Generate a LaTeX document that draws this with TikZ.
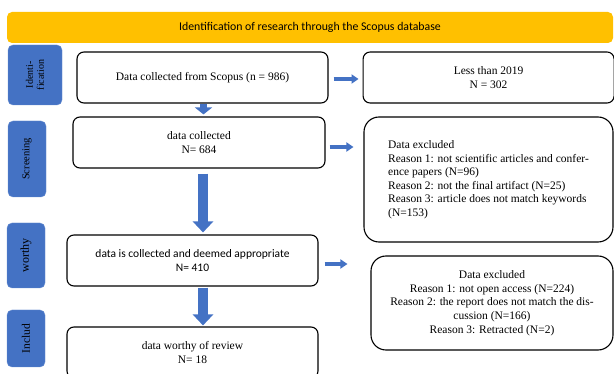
\documentclass[tikz,border=0pt]{standalone}
\usepackage{fontspec}
\setmainfont{Liberation Serif}[Ligatures=NoCommon]
\newfontfamily\calib{Carlito}
\usetikzlibrary{positioning,arrows.meta}
\definecolor{phaseblue}{HTML}{4472C4}
\definecolor{bannergold}{HTML}{FFC000}

\begin{document}
\begin{tikzpicture}[x=1pt,y=-1pt,
        flowbox/.style={rectangle, rounded corners=7pt, draw=black, line width=1.1pt, minimum width=251pt, minimum height=51pt, align=center, inner sep=2pt, font=\fontsize{11.5}{13.7}\selectfont},
        exclbox/.style={flowbox, rounded corners=15pt},
        phasenode/.style={rectangle, rounded corners=5pt, fill=phaseblue, draw=phaseblue!80!white, rotate=90, align=center, inner sep=1pt},
        downarrow/.style={draw=phaseblue, line width=10pt, -{Triangle[length=11pt,width=20pt]}},
        shortdown/.style={draw=phaseblue, line width=7pt, -{Triangle[length=7pt,width=17pt]}},
        sidearrow/.style={draw=phaseblue, line width=3.5pt, -{Triangle[length=7pt,width=9pt]}}]

        \path[use as bounding box, clip] (0,0) rectangle (614,374);

        \node[fill=bannergold, rounded corners=5pt, minimum width=606pt, minimum height=31pt, font=\calib\fontsize{11.8}{13}\selectfont] (banner) at (310,27.5) {Identification of research through the Scopus database};

        \node[phasenode, minimum width=60pt, minimum height=54pt, font=\fontsize{10}{11}\selectfont] (phid) at (35,75) {Identi-\\fication};
        \node[phasenode, minimum width=76pt, minimum height=38pt, font=\fontsize{10.5}{12}\selectfont] (phscr) at (27,159) {Screening};
        \node[phasenode, minimum width=65pt, minimum height=38pt, font=\fontsize{12}{13}\selectfont] (phwor) at (26,255.5) {worthy};
        \node[phasenode, minimum width=57pt, minimum height=38pt, font=\fontsize{11.5}{13}\selectfont] (phinc) at (26,338.5) {Includ};

        \node[flowbox] (idb) at (202.5,77.5) {Data collected from Scopus (n = 986)};
        \node[flowbox] (less) [right=34pt of idb] {Less than 2019\\N = 302};
        \node[flowbox, minimum width=252pt] (scr) at (199,142.5) {data collected\\N= 684};
        \node[exclbox, minimum width=249pt, minimum height=125pt, align=left, font=\fontsize{11.5}{13.5}\selectfont] (exc1) at (488.5,179.5) {Data excluded\\Reason 1: not scientific articles and confer-\\ence papers (N=96)\\Reason 2: not the final artifact (N=25)\\Reason 3: article does not match keywords\\(N=153)};
        \node[flowbox, font=\calib\fontsize{11.5}{14}\selectfont] (wor) at (192.5,260.5) {data is collected and deemed appropriate\\N= 410};
        \node[exclbox, minimum width=242pt, minimum height=94pt, font=\fontsize{11.5}{13.75}\selectfont] (exc2) at (492,303) {Data excluded\\Reason 1: not open access (N=224)\\Reason 2: the report does not match the dis-\\cussion (N=166)\\Reason 3: Retracted (N=2)};
        \node[flowbox] (inc) at (192.5,352.5) {data worthy of review\\N= 18};

        \draw[shortdown, shorten >=2pt] ([xshift=1pt]idb.south) -- ([xshift=1pt]idb.south |- scr.north);
        \draw[downarrow, shorten <=5pt, shorten >=2pt] ([xshift=4pt]scr.south) -- ([xshift=4pt]scr.south |- wor.north);
        \draw[downarrow, shorten <=1pt, shorten >=1pt] ([xshift=10.5pt]wor.south) -- ([xshift=10.5pt]wor.south |- inc.north);

        \draw[sidearrow, shorten <=5pt, shorten >=4pt] ([yshift=-1.5pt]idb.east) -- ([yshift=-1.5pt]less.west);
        \draw[sidearrow, shorten <=4pt, shorten >=10pt] ([yshift=-4.5pt]scr.east) -- ([yshift=-4.5pt]scr.east -| exc1.west);
        \draw[sidearrow, shorten <=6pt, shorten >=23pt] ([yshift=-3.5pt]wor.east) -- ([yshift=-3.5pt]wor.east -| exc2.west);

\end{tikzpicture}
\end{document}
